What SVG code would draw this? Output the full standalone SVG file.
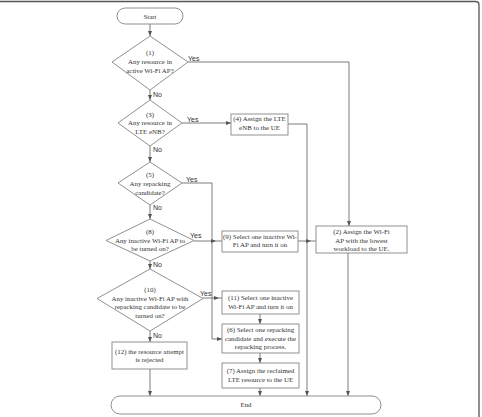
<svg xmlns="http://www.w3.org/2000/svg" width="482" height="417" viewBox="0 0 482 417">
  <style>
    .shape { fill: #ffffff; stroke: #858585; stroke-width: 0.9; }
    .lbl { font-family: "Liberation Serif", "Times New Roman", serif; font-size: 6.9px; fill: #333333; text-anchor: middle; }
    .yn { font-family: "Liberation Sans", Arial, sans-serif; font-size: 7px; fill: #333333; }
    .conn { fill: none; stroke: #6e6e6e; stroke-width: 0.9; }
    .frame { fill: none; stroke: #555555; stroke-width: 1.3; }
  </style>
  <defs>
    <marker id="arrow" markerUnits="userSpaceOnUse" markerWidth="5" markerHeight="4" viewBox="0 0 10 8" refX="10" refY="4" orient="auto">
      <path d="M0,0 L10,4 L0,8 z" fill="#555555"/>
    </marker>
  </defs>
  <rect width="482" height="417" fill="#ffffff"/>
  <!-- outer page frame -->
  <path class="frame" d="M0,1.5 H475.5 Q479,1.5 479,5 V417"/>

  <g id="connectors">
    <path class="conn" d="M150,24 V36" marker-end="url(#arrow)"/>
    <path class="conn" d="M150,90 V100" marker-end="url(#arrow)"/>
    <path class="conn" d="M188,62 H349 V226" marker-end="url(#arrow)"/>
    <path class="conn" d="M182,123 H231" marker-end="url(#arrow)"/>
    <path class="conn" d="M288,124 H307 V396" marker-end="url(#arrow)"/>
    <path class="conn" d="M150,146 V162" marker-end="url(#arrow)"/>
    <path class="conn" d="M182,183 H212 V339 H222" marker-end="url(#arrow)"/>
    <path class="conn" d="M150,205 V219" marker-end="url(#arrow)"/>
    <path class="conn" d="M194,241 H216" marker-end="url(#arrow)"/>
    <path class="conn" d="M216,241 H222"/>
    <path class="conn" d="M298,241 H311" marker-end="url(#arrow)"/>
    <path class="conn" d="M311,241 H316"/>
    <path class="conn" d="M150,261 V269" marker-end="url(#arrow)"/>
    <path class="conn" d="M203,298 H219" marker-end="url(#arrow)"/>
    <path class="conn" d="M219,298 H222"/>
    <path class="conn" d="M260,314 V324" marker-end="url(#arrow)"/>
    <path class="conn" d="M260,353 V363" marker-end="url(#arrow)"/>
    <path class="conn" d="M260,388 V396" marker-end="url(#arrow)"/>
    <path class="conn" d="M150,331 V342" marker-end="url(#arrow)"/>
    <path class="conn" d="M150,369 V396" marker-end="url(#arrow)"/>
    <path class="conn" d="M348,253 V396" marker-end="url(#arrow)"/>
    <!-- branch labels -->
    <text class="yn" x="188" y="60.5">Yes</text>
    <text class="yn" x="153" y="96.5">No</text>
    <text class="yn" x="187" y="121.5">Yes</text>
    <text class="yn" x="153" y="151.5">No</text>
    <text class="yn" x="186" y="181.5">Yes</text>
    <text class="yn" x="153" y="209.5">No</text>
    <text class="yn" x="190" y="237.5">Yes</text>
    <text class="yn" x="153" y="267">No</text>
    <text class="yn" x="200" y="295.5">Yes</text>
    <text class="yn" x="153" y="337.5">No</text>
  </g>

  <g id="start">
    <rect class="shape" x="117" y="8" width="66" height="16" rx="8"/>
    <text class="lbl" x="150" y="18.5">Start</text>
  </g>

  <g id="d1">
    <polygon class="shape" points="150,36 188,62 150,90 112,62"/>
    <text class="lbl"><tspan x="150" y="54.5">(1)</tspan><tspan x="150" y="64.3">Any resource in</tspan><tspan x="150" y="73.2">active Wi-Fi AP?</tspan></text>
  </g>

  <g id="d3">
    <polygon class="shape" points="150,100 182,123 150,146 118,123"/>
    <text class="lbl"><tspan x="150" y="116.8">(3)</tspan><tspan x="150" y="125.3">Any resource in</tspan><tspan x="150" y="133.8">LTE eNB?</tspan></text>
  </g>

  <g id="box4">
    <rect class="shape" x="231" y="114" width="57" height="21"/>
    <text class="lbl"><tspan x="259.5" y="121.3">(4) Assign the LTE</tspan><tspan x="259.5" y="130.3">eNB to the UE</tspan></text>
  </g>

  <g id="d5">
    <polygon class="shape" points="150,162 182,183 150,205 118,183"/>
    <text class="lbl"><tspan x="150" y="177.3">(5)</tspan><tspan x="150" y="186.3">Any repacking</tspan><tspan x="150" y="194.8">candidate?</tspan></text>
  </g>

  <g id="d8">
    <polygon class="shape" points="150,219 194,240.5 150,261 106,240.5"/>
    <text class="lbl"><tspan x="150" y="234.3">(8)</tspan><tspan x="150" y="242.8">Any inactive Wi-Fi AP to</tspan><tspan x="150" y="251.3">be turned on?</tspan></text>
  </g>

  <g id="box9">
    <rect class="shape" x="222" y="231" width="76" height="21"/>
    <text class="lbl"><tspan x="260" y="238.8">(9) Select one inactive Wi-</tspan><tspan x="260" y="247.3">Fi AP and turn it on</tspan></text>
  </g>

  <g id="box2">
    <rect class="shape" x="316" y="226" width="91" height="27"/>
    <text class="lbl"><tspan x="361.5" y="234.3">(2) Assign the Wi-Fi</tspan><tspan x="361.5" y="242.8">AP with the lowest</tspan><tspan x="361.5" y="251.3">workload to the UE.</tspan></text>
  </g>

  <g id="d10">
    <polygon class="shape" points="150,269 203,298.5 150,331 97,298.5"/>
    <text class="lbl"><tspan x="150" y="292.3">(10)</tspan><tspan x="150" y="300.8">Any inactive Wi-Fi AP with</tspan><tspan x="150" y="309.3">repacking candidate to be</tspan><tspan x="150" y="317.8">turned on?</tspan></text>
  </g>

  <g id="box11">
    <rect class="shape" x="222" y="291" width="77" height="23"/>
    <text class="lbl"><tspan x="260.5" y="300.3">(11) Select one inactive</tspan><tspan x="260.5" y="308.8">Wi-Fi AP and turn it on</tspan></text>
  </g>

  <g id="box6">
    <rect class="shape" x="222" y="324" width="77" height="29"/>
    <text class="lbl"><tspan x="260.5" y="332.3">(6) Select one repacking</tspan><tspan x="260.5" y="340.8">candidate and execute the</tspan><tspan x="260.5" y="349.3">repacking process.</tspan></text>
  </g>

  <g id="box7">
    <rect class="shape" x="222" y="363" width="77" height="25"/>
    <text class="lbl"><tspan x="260.5" y="373.3">(7) Assign the reclaimed</tspan><tspan x="260.5" y="381.8">LTE resource to the UE</tspan></text>
  </g>

  <g id="box12">
    <rect class="shape" x="112" y="342" width="75" height="27"/>
    <text class="lbl"><tspan x="149.5" y="353.8">(12) the resource attempt</tspan><tspan x="149.5" y="362.3">is rejected</tspan></text>
  </g>

  <g id="end">
    <rect class="shape" x="111" y="396" width="270" height="18" rx="9"/>
    <text class="lbl" x="246" y="407.3">End</text>
  </g>
</svg>
